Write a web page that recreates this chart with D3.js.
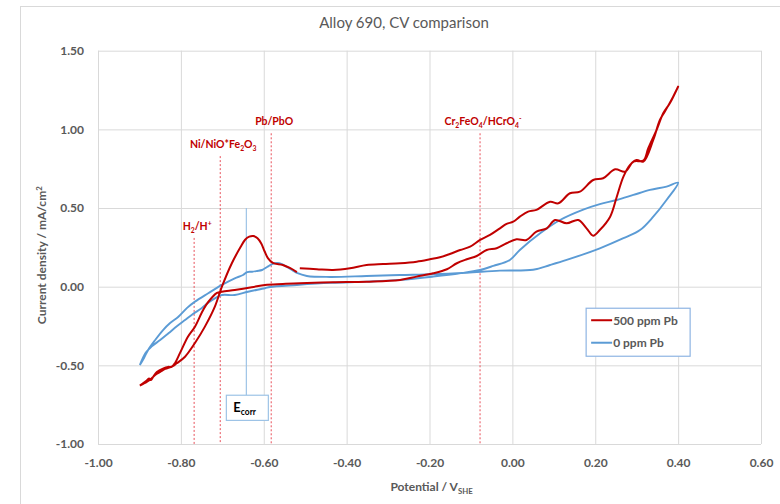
<!DOCTYPE html>
<html>
<head>
<meta charset="utf-8">
<script src="https://cdn.jsdelivr.net/npm/d3@7"></script>
<style>
  body { margin: 0; background: #fff; }
  svg text { font-family: Lato, "Open Sans", sans-serif; }
</style>
</head>
<body>
<div id="chart"></div>
<script>
// 500 ppm Pb loop: [potential V_SHE, current density mA/cm2], null = break in the trace
const pb500 = [
  [-0.899,-0.629],[-0.884,-0.600],[-0.877,-0.584],[-0.872,-0.593],[-0.867,-0.574],[-0.858,-0.542],
  [-0.842,-0.519],[-0.831,-0.510],[-0.822,-0.509],[-0.814,-0.485],[-0.802,-0.421],[-0.783,-0.318],
  [-0.766,-0.254],[-0.750,-0.167],[-0.739,-0.116],[-0.726,-0.072],[-0.713,-0.040],[-0.701,-0.032],
  [-0.670,-0.021],[-0.629,-0.004],[-0.597,0.011],[-0.554,0.017],[-0.513,0.022],[-0.433,0.028],
  [-0.352,0.032],[-0.271,0.043],[-0.231,0.064],[-0.191,0.085],[-0.158,0.111],[-0.134,0.149],
  [-0.110,0.174],[-0.086,0.195],[-0.062,0.233],[-0.038,0.244],[-0.014,0.276],[0.010,0.301],
  [0.034,0.297],[0.058,0.350],[0.083,0.371],[0.103,0.424],[0.131,0.403],[0.159,0.424],
  [0.179,0.371],[0.195,0.324],[0.211,0.360],[0.236,0.445],[0.252,0.572],[0.268,0.699],
  [0.284,0.774],[0.300,0.805],[0.316,0.795],[0.340,0.933],[0.356,1.060],[0.368,1.113],
  [0.388,1.208],[0.400,1.272],
  [0.380,1.166],[0.364,1.102],[0.348,0.996],[0.328,0.880],[0.316,0.801],[0.292,0.795],
  [0.272,0.731],[0.248,0.746],[0.219,0.689],[0.195,0.678],[0.163,0.604],[0.139,0.594],
  [0.111,0.530],[0.091,0.540],[0.058,0.488],[0.038,0.477],[0.018,0.445],[0.002,0.413],
  [-0.014,0.399],[-0.030,0.371],[-0.054,0.329],[-0.078,0.297],[-0.102,0.254],[-0.126,0.233],
  [-0.151,0.208],[-0.175,0.187],[-0.199,0.174],[-0.231,0.159],[-0.271,0.149],[-0.312,0.144],
  [-0.352,0.138],[-0.392,0.117],[-0.433,0.106],[-0.472,0.111],[-0.513,0.117],
  null,
  [-0.520,0.093],[-0.537,0.119],[-0.554,0.138],[-0.578,0.151],[-0.590,0.182],[-0.598,0.225],
  [-0.606,0.275],[-0.615,0.308],[-0.625,0.322],[-0.635,0.318],[-0.645,0.298],[-0.656,0.252],
  [-0.677,0.149],
  [-0.701,0.000],[-0.718,-0.127],[-0.742,-0.254],[-0.766,-0.358],[-0.790,-0.445],[-0.810,-0.487],
  [-0.821,-0.507],[-0.838,-0.523],[-0.850,-0.542],[-0.862,-0.561],[-0.875,-0.593],[-0.887,-0.612],
  [-0.899,-0.629]
];

// 0 ppm Pb loop
const pb0 = [
  [-0.899,-0.498],[-0.885,-0.420],[-0.871,-0.381],[-0.850,-0.339],[-0.830,-0.296],[-0.809,-0.250],
  [-0.790,-0.212],[-0.771,-0.174],[-0.750,-0.137],[-0.735,-0.104],[-0.718,-0.074],[-0.701,-0.053],
  [-0.670,-0.053],[-0.638,-0.032],[-0.597,-0.010],[-0.585,-0.002],[-0.520,0.011],[-0.440,0.024],
  [-0.352,0.032],[-0.271,0.043],[-0.191,0.064],[-0.126,0.085],[-0.078,0.106],[-0.046,0.132],
  [-0.006,0.170],[0.018,0.233],[0.067,0.339],[0.115,0.424],[0.171,0.490],[0.211,0.525],
  [0.252,0.551],[0.292,0.583],[0.332,0.615],[0.372,0.636],[0.400,0.661],
  [0.372,0.551],[0.340,0.445],[0.308,0.360],[0.268,0.308],[0.211,0.244],[0.131,0.170],
  [0.091,0.138],[0.050,0.108],[-0.030,0.102],[-0.110,0.089],[-0.191,0.079],[-0.271,0.074],
  [-0.352,0.068],[-0.440,0.062],[-0.496,0.068],[-0.520,0.087],[-0.532,0.106],[-0.544,0.125],
  [-0.556,0.144],[-0.568,0.151],[-0.580,0.144],[-0.592,0.125],[-0.604,0.106],[-0.616,0.100],
  [-0.628,0.095],[-0.640,0.093],[-0.650,0.074],[-0.670,0.053],[-0.701,0.011],[-0.734,-0.042],
  [-0.766,-0.095],[-0.785,-0.135],[-0.806,-0.191],[-0.826,-0.231],[-0.843,-0.276],[-0.862,-0.339],
  [-0.879,-0.402],[-0.889,-0.453],[-0.899,-0.498]
];

// equilibrium potentials marked with dotted lines
const refPotentials = [-0.768, -0.705, -0.582, -0.078];
const refTops = [0.31, 0.83, 0.975, 0.975];
const refLabels = [
  [["H"], ["2", "sub"], ["/H"], ["+", "sup"]],
  [["Ni/NiO*Fe"], ["2", "sub"], ["O"], ["3", "sub"]],
  [["Pb/PbO"]],
  [["Cr"], ["2", "sub"], ["FeO"], ["4", "sub"], ["/HCrO"], ["4", "sub"], ["-", "sup"]]
];

// corrosion potential marker
const ecorr = -0.642;
const ecorrTop = 0.5;
const ecorrBox = [-0.69, -0.85];

const xTicks = [-1.0, -0.8, -0.6, -0.4, -0.2, 0.0, 0.2, 0.4, 0.6];
const yTicks = [-1.0, -0.5, 0.0, 0.5, 1.0, 1.5];
const seriesNames = ["500 ppm Pb", "0 ppm Pb"];

const svgWidth = 780, svgHeight = 504;
const margin = { top: 50.7, right: 19, bottom: 60, left: 98 };
const width = svgWidth - margin.left - margin.right;
const height = svgHeight - margin.top - margin.bottom;
const red = "#c00000", blue = "#5b9bd5";

const svg = d3.select("#chart").append("svg")
  .attr("width", svgWidth)
  .attr("height", svgHeight);

// chart frame
svg.append("rect")
  .attr("x", 20.5).attr("y", 6.5)
  .attr("width", 800).attr("height", 520)
  .attr("fill", "none").attr("stroke", "#d9d9d9");

const chart = svg.append("g")
  .attr("transform", `translate(${margin.left}, ${margin.top})`);

const x = d3.scaleLinear().domain([-1, 0.6]).range([0, width]);
const y = d3.scaleLinear().domain([-1, 1.5]).range([height, 0]);
const fmt = d => d.toFixed(2);

// grid
chart.append("g")
  .call(d3.axisBottom(x).tickValues(xTicks).tickSize(height).tickFormat(""))
  .call(g => g.select(".domain").remove())
  .call(g => g.selectAll("line").attr("stroke", "#d9d9d9"));
chart.append("g")
  .call(d3.axisLeft(y).tickValues(yTicks).tickSize(-width).tickFormat(""))
  .call(g => g.select(".domain").remove())
  .call(g => g.selectAll("line").attr("stroke", "#d9d9d9"));

// tick labels
const xAxis = chart.append("g")
  .attr("transform", `translate(0, ${height})`)
  .call(d3.axisBottom(x).tickValues(xTicks).tickSize(0).tickPadding(14).tickFormat(fmt));
const yAxis = chart.append("g")
  .call(d3.axisLeft(y).tickValues(yTicks).tickSize(0).tickPadding(14).tickFormat(fmt));
[xAxis, yAxis].forEach(a => {
  a.select(".domain").remove();
  a.selectAll("text")
    .attr("fill", "#595959")
    .style("font-size", "12px")
    .style("font-weight", "700")
    .style("font-family", "Lato, sans-serif");
});

// text with sub/superscript pieces
function richText(sel, parts, size) {
  let shift = 0;
  parts.forEach(p => {
    const target = p[1] === "sub" ? 3 : p[1] === "sup" ? -4 : 0;
    const t = sel.append("tspan").text(p[0]);
    if (target !== shift) t.attr("dy", target - shift);
    if (p[1]) t.style("font-size", (size * 0.65) + "px");
    shift = target;
  });
}

// reference lines
refPotentials.forEach((p, i) => {
  chart.append("line")
    .attr("x1", x(p)).attr("x2", x(p))
    .attr("y1", y(refTops[i])).attr("y2", height)
    .attr("stroke", "#e8505a").attr("stroke-width", 1)
    .attr("stroke-dasharray", "2,2");
  const t = chart.append("text")
    .attr("x", x(p) + 3).attr("y", y(refTops[i]) - 8)
    .attr("text-anchor", "middle")
    .attr("fill", red)
    .style("font-size", "10.5px").style("font-weight", "700");
  richText(t, refLabels[i], 10.5);
});

// Ecorr marker
chart.append("line")
  .attr("x1", x(ecorr)).attr("x2", x(ecorr))
  .attr("y1", y(ecorrTop)).attr("y2", y(ecorrBox[0]))
  .attr("stroke", "#9dc3e6").attr("stroke-width", 1.2);
chart.append("rect")
  .attr("x", x(ecorr) - 20).attr("y", y(ecorrBox[0]))
  .attr("width", 42).attr("height", y(ecorrBox[1]) - y(ecorrBox[0]))
  .attr("fill", "#fff").attr("stroke", "#9dc3e6").attr("stroke-width", 1.2);
const et = chart.append("text")
  .attr("x", x(ecorr) - 13).attr("y", y((ecorrBox[0] + ecorrBox[1]) / 2) + 4)
  .attr("fill", "#000")
  .style("font-size", "13px").style("font-weight", "700");
richText(et, [["E"], ["corr", "sub"]], 13);

// curves
const line = d3.line()
  .defined(d => d !== null)
  .x(d => x(d[0]))
  .y(d => y(d[1]))
  .curve(d3.curveCatmullRom.alpha(0.5));

chart.append("path")
  .datum(pb0)
  .attr("fill", "none")
  .attr("stroke", blue)
  .attr("stroke-width", 1.9)
  .attr("d", line);

chart.append("path")
  .datum(pb500)
  .attr("fill", "none")
  .attr("stroke", red)
  .attr("stroke-width", 2)
  .attr("d", line);

// legend
const legend = chart.append("g")
  .attr("transform", `translate(${x(0.178)}, ${y(-0.137)})`);
legend.append("rect")
  .attr("width", 104).attr("height", 48)
  .attr("fill", "#fff").attr("stroke", "#8eb4e3").attr("stroke-width", 1.2);
seriesNames.forEach((name, i) => {
  const gy = 12 + i * 22.5;
  legend.append("line")
    .attr("x1", 5).attr("x2", 26).attr("y1", gy).attr("y2", gy)
    .attr("stroke", i === 0 ? red : blue).attr("stroke-width", 2);
  legend.append("text")
    .attr("x", 27).attr("y", gy + 4.5)
    .attr("fill", "#595959")
    .style("font-size", "12px").style("font-weight", "700")
    .text(name);
});

// title
svg.append("text")
  .attr("x", 404).attr("y", 28)
  .attr("text-anchor", "middle")
  .attr("fill", "#595959")
  .style("font-size", "15px")
  .text("Alloy 690, CV comparison");

// axis titles
const xt = svg.append("text")
  .attr("x", margin.left + x(-0.195)).attr("y", 491)
  .attr("text-anchor", "middle")
  .attr("fill", "#595959")
  .style("font-size", "12px").style("font-weight", "700");
richText(xt, [["Potential / V"], ["SHE", "sub"]], 12);

const yt = svg.append("text")
  .attr("transform", `translate(46, ${margin.top + y(0.2)}) rotate(-90)`)
  .attr("text-anchor", "middle")
  .attr("fill", "#595959")
  .style("font-size", "12px").style("font-weight", "700");
richText(yt, [["Current density / mA/cm"], ["2", "sup"]], 12);
</script>
</body>
</html>
